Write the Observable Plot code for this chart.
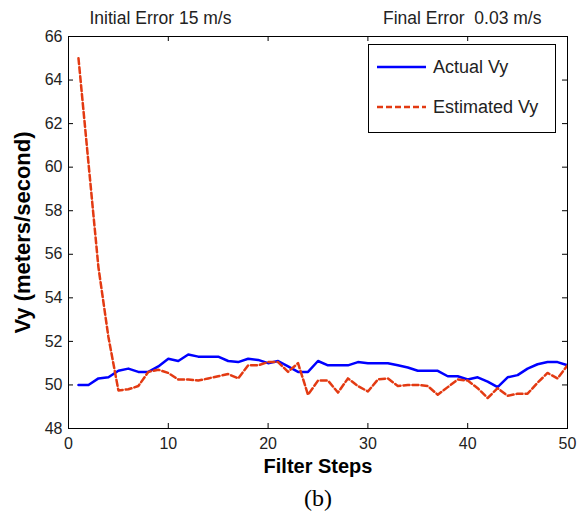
<!DOCTYPE html>
<html>
<head>
<meta charset="utf-8">
<script src="https://cdn.jsdelivr.net/npm/d3@7"></script>
<script src="https://cdn.jsdelivr.net/npm/@observablehq/plot@0.6"></script>
<style>
  html, body { margin: 0; padding: 0; background: white; }
  #wrap { position: relative; width: 587px; height: 517px; }
  #legend {
    position: absolute; left: 368px; top: 44px; width: 186px; height: 87px;
    border: 1px solid #000; background: #fff;
    font-family: "Liberation Sans", Arial, sans-serif; font-size: 18px; color: #222;
  }
  .row { position: absolute; left: 8px; height: 22px; display: flex; align-items: center; white-space: nowrap; }
  .row svg { margin-right: 7px; }
</style>
</head>
<body>
<div id="wrap">
  <div id="chart"></div>
  <div id="legend">
    <div class="row" style="top:11px"><svg width="49" height="6"><line x1="0" y1="3" x2="49" y2="3" stroke="#0000ff" stroke-width="2.5"/></svg>Actual Vy</div>
    <div class="row" style="top:51px"><svg width="49" height="6"><line x1="0" y1="3" x2="49" y2="3" stroke="#e33a12" stroke-width="2.5" stroke-dasharray="6,3"/></svg>Estimated Vy</div>
  </div>
</div>
<script>
const steps = [1,2,3,4,5,6,7,8,9,10,11,12,13,14,15,16,17,18,19,20,21,22,23,24,25,26,27,28,29,30,31,32,33,34,35,36,37,38,39,40,41,42,43,44,45,46,47,48,49,50];
const actualVy = [50.0,50.0,50.3,50.35,50.65,50.75,50.6,50.6,50.85,51.2,
  51.1,51.4,51.3,51.3,51.3,51.1,51.05,51.2,51.15,51.0,
  51.1,50.85,50.6,50.6,51.1,50.9,50.9,50.9,51.05,51.0,
  51.0,51.0,50.9,50.8,50.65,50.65,50.65,50.4,50.4,50.25,
  50.35,50.15,49.9,50.35,50.45,50.75,50.95,51.05,51.05,50.9];
const estimatedVy = [65.0,60.2,55.4,52.2,49.75,49.8,49.95,50.6,50.7,50.55,
  50.25,50.25,50.2,50.3,50.4,50.5,50.3,50.9,50.9,51.05,
  51.05,50.6,51.0,49.55,50.2,50.2,49.65,50.3,49.95,49.7,
  50.25,50.3,49.95,50.0,50.0,49.95,49.55,49.9,50.25,50.2,
  49.85,49.4,49.85,49.5,49.6,49.6,50.1,50.55,50.3,50.9];
const xTicks = [0,10,20,30,40,50];
const yTicks = [48,50,52,54,56,58,60,62,64,66];
const titleLeft = "Initial Error 15 m/s";
const titleRight = "Final Error\u00a0 0.03 m/s";
const xLabel = "Filter Steps";
const yLabel = "Vy (meters/second)";
const caption = "(b)";

const actual = steps.map((s, i) => ({s, v: actualVy[i]}));
const estimated = steps.map((s, i) => ({s, v: estimatedVy[i]}));

const W = 587, H = 517, mt = 36, mb = 89, ml = 68, mr = 20;
const ph = H - mt - mb, pw = W - ml - mr;
const tick = 5;
const txt = "#222";

const chart = Plot.plot({
  width: W, height: H,
  marginTop: mt, marginBottom: mb, marginLeft: ml, marginRight: mr,
  style: {fontFamily: "'Liberation Sans', Arial, sans-serif", fontSize: "16px", background: "white", color: txt},
  x: {domain: [0, 50]},
  y: {domain: [48, 66]},
  marks: [
    Plot.line(actual, {x: "s", y: "v", stroke: "#0000ff", strokeWidth: 2.5, clip: true}),
    Plot.line(estimated, {x: "s", y: "v", stroke: "#e33a12", strokeWidth: 2.5, strokeDasharray: "6,3", clip: true}),
    Plot.frame({stroke: "#000", strokeWidth: 1}),
    Plot.tickX(xTicks, {x: d => d, insetTop: ph - tick, stroke: "#000"}),
    Plot.tickX(xTicks, {x: d => d, insetBottom: ph - tick, stroke: "#000"}),
    Plot.tickY(yTicks, {y: d => d, insetRight: pw - tick, stroke: "#000"}),
    Plot.tickY(yTicks, {y: d => d, insetLeft: pw - tick, stroke: "#000"}),
    Plot.axisX(xTicks, {tickSize: 0, tickPadding: 9, fontSize: 16, fill: txt, label: null}),
    Plot.axisY(yTicks, {tickSize: 0, tickPadding: 6, fontSize: 16, fill: txt, label: null}),
    Plot.text([titleLeft], {frameAnchor: "top-left", textAnchor: "start", lineAnchor: "middle", dx: 21, dy: -18, fontSize: 17.5, fill: txt}),
    Plot.text([titleRight], {frameAnchor: "top-right", textAnchor: "end", lineAnchor: "middle", dx: -26, dy: -18, fontSize: 17.5, fill: txt}),
    Plot.text([xLabel], {frameAnchor: "bottom", textAnchor: "middle", lineAnchor: "middle", dy: 38, fontSize: 20, fontWeight: "bold", fill: "#000"}),
    Plot.text([caption], {frameAnchor: "bottom", textAnchor: "middle", lineAnchor: "middle", dy: 70, fontSize: 24, fontFamily: "'Liberation Serif', 'Times New Roman', serif", fill: "#000"}),
    Plot.text([yLabel], {frameAnchor: "left", textAnchor: "middle", lineAnchor: "middle", rotate: -90, dx: -46, fontSize: 22, fontWeight: "bold", fill: "#000"})
  ]
});
document.getElementById("chart").appendChild(chart);
</script>
</body>
</html>
